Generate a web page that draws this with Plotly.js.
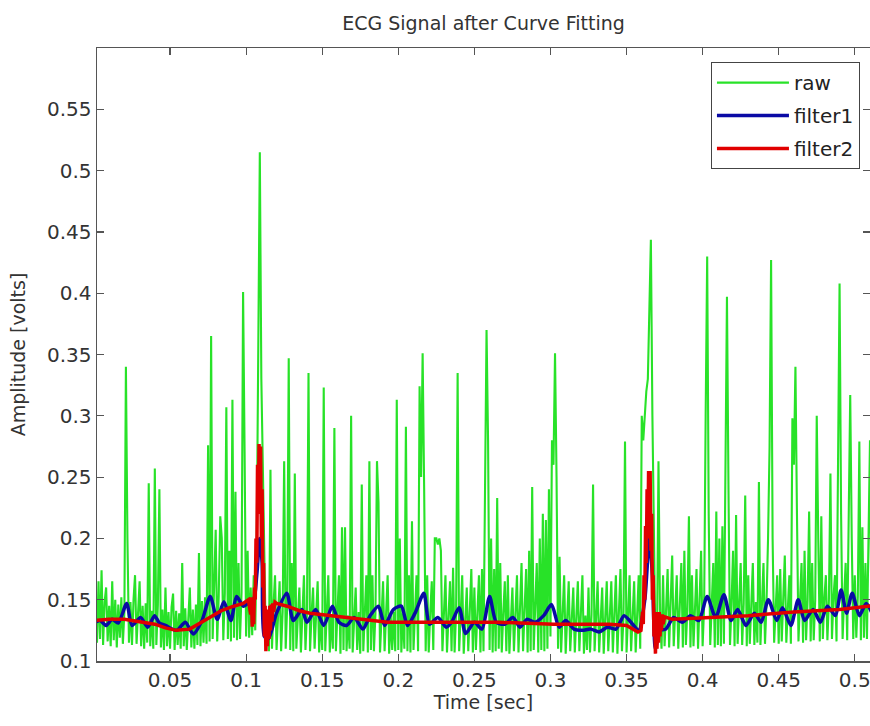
<!DOCTYPE html>
<html><head><meta charset="utf-8">
<script src="https://cdn.plot.ly/plotly-3.0.1.min.js"></script>
<style>html,body{margin:0;padding:0;background:#fff;overflow:hidden}#chart{width:870px;height:726px}</style>
</head><body><div id="chart"></div>
<script>
// raw ECG samples, one every 1 ms starting at t = 0 s
const rawStart = 0;
const rawStep = 0.001;
const rawV = [
.128,.150,.115,.165,.118,.174,.113,.148,.160,.116,
.145,.112,.165,.117,.150,.111,.146,.119,.152,.114,
.140,.340,.200,.115,.148,.113,.150,.170,.114,.143,
.165,.112,.145,.110,.147,.115,.245,.112,.141,.110,
.257,.113,.146,.240,.111,.142,.109,.160,.112,.140,
.110,.144,.155,.109,.141,.113,.139,.110,.180,.112,
.143,.109,.140,.160,.111,.142,.110,.146,.113,.188,
.112,.149,.115,.152,.114,.276,.116,.365,.118,.154,
.207,.116,.153,.218,.200,.117,.155,.307,.118,.190,
.116,.313,.119,.238,.117,.180,.118,.156,.401,.270,
.120,.190,.119,.160,.121,.170,.125,.200,.330,.515,
.330,.250,.200,.112,.140,.108,.256,.110,.145,.170,
.109,.142,.165,.108,.140,.263,.110,.145,.347,.109,
.180,.108,.253,.110,.141,.160,.107,.139,.170,.109,
.140,.335,.108,.138,.160,.110,.142,.165,.107,.137,
.109,.323,.108,.140,.170,.107,.138,.110,.290,.108,
.139,.170,.106,.209,.109,.209,.108,.137,.110,.300,
.107,.138,.160,.109,.140,.106,.244,.108,.137,.170,
.107,.263,.109,.170,.108,.139,.263,.229,.107,.138,
.165,.108,.139,.170,.106,.137,.109,.140,.108,.313,
.109,.200,.107,.139,.110,.291,.108,.170,.107,.214,
.109,.138,.170,.108,.324,.250,.351,.240,.108,.170,
.107,.139,.165,.109,.200,.200,.195,.200,.190,.108,
.139,.170,.107,.137,.165,.108,.176,.107,.140,.335,
.108,.138,.170,.106,.139,.160,.108,.137,.175,.107,
.160,.109,.139,.170,.107,.175,.108,.242,.370,.280,
.109,.200,.107,.175,.108,.233,.110,.180,.107,.139,
.165,.108,.170,.106,.138,.160,.108,.137,.170,.107,
.139,.180,.108,.138,.175,.107,.190,.108,.242,.109,
.139,.180,.107,.200,.109,.220,.108,.215,.110,.240,
.120,.280,.260,.351,.250,.110,.185,.107,.138,.170,
.106,.137,.165,.108,.139,.160,.107,.136,.165,.108,
.138,.170,.106,.137,.109,.160,.107,.138,.244,.108,
.136,.165,.107,.137,.160,.106,.138,.165,.108,.136,
.165,.107,.137,.170,.106,.138,.175,.108,.136,.279,
.107,.137,.170,.108,.135,.165,.107,.136,.170,.110,
.300,.280,.300,.320,.330,.400,.4435,.300,.200,.110,
.112,.263,.140,.110,.170,.112,.142,.175,.111,.143,
.186,.112,.141,.170,.110,.144,.180,.111,.190,.113,
.142,.218,.111,.170,.112,.143,.175,.110,.144,.190,
.112,.145,.300,.430,.220,.113,.146,.180,.111,.222,
.113,.200,.112,.210,.114,.267,.397,.240,.113,.146,
.190,.112,.219,.114,.145,.180,.113,.147,.235,.112,
.170,.114,.146,.180,.113,.148,.115,.246,.113,.147,
.180,.114,.148,.200,.275,.427,.200,.115,.147,.170,
.114,.175,.116,.148,.186,.115,.149,.170,.114,.298,
.260,.340,.220,.116,.149,.180,.115,.190,.117,.150,
.222,.116,.180,.117,.150,.300,.200,.116,.218,.118,
.151,.170,.117,.150,.253,.118,.152,.170,.116,.268,
.408,.220,.118,.152,.180,.117,.232,.317,.200,.118,
.170,.119,.153,.279,.117,.209,.119,.180,.118,.200,
.280,.120
];

// filter1 (blue)
const filter1T = [0,.004,.008,.012,.016,.0215,.025,.0306,.0354,.0398,.043,.047,.0544,.06,.0653,.071,.0764,.081,.0854,.09,.0937,.0982,.102,.105,.107,.109,.1105,.112,.1146,.12,.1267,.131,.1366,.14,.1457,.151,.1567,.161,.166,.171,.1767,.1815,.187,.191,.1968,.202,.206,.211,.2168,.2205,.226,.2315,.235,.24,.2443,.25,.255,.26,.2644,.27,.2753,.28,.2845,.29,.2955,.3007,.3057,.31,.3155,.321,.3265,.332,.3375,.343,.3484,.354,.358,.362,.365,.367,.369,.372,.3758,.381,.3866,.392,.3975,.403,.4085,.414,.4187,.423,.4285,.434,.4385,.4432,.4487,.4525,.458,.4628,.467,.4726,.4774,.482,.4873,.491,.4946,.4983,.503,.5075,.511];
const filter1V = [.131,.133,.129,.134,.131,.147,.129,.1355,.1276,.137,.131,.129,.125,.1316,.122,.133,.1526,.134,.1484,.133,.1526,.1447,.148,.15,.17,.2,.18,.12,.118,.139,.1553,.133,.142,.1316,.142,.129,.1447,.1316,.129,.1355,.126,.137,.1447,.129,.142,.1447,.129,.139,.1553,.130,.1355,.1276,.1316,.1434,.1224,.1316,.126,.1526,.1316,.130,.1355,.1276,.134,.1316,.137,.146,.1276,.133,.126,.125,.126,.1237,.1276,.126,.137,.130,.125,.15,.2,.17,.11,.125,.126,.1355,.1316,.137,.133,.1526,.1355,.154,.133,.142,.129,.139,.1316,.15,.133,.1434,.129,.15,.133,.142,.1316,.1447,.137,.158,.139,.1553,.137,.147,.14];

// filter2 (red)
const filter2T = [0,.01,.02,.03,.04,.047,.054,.063,.073,.0836,.09,.098,.1015,.103,.1035,.104,.1045,.105,.1055,.106,.1065,.107,.1075,.108,.1085,.109,.1095,.110,.1105,.111,.1115,.112,.1125,.113,.1135,.114,.1145,.115,.1155,.116,.1165,.117,.1175,.118,.119,.12,.127,.135,.142,.157,.175,.193,.23,.266,.302,.339,.35,.354,.3575,.3595,.3605,.361,.3615,.362,.3625,.363,.3635,.364,.3645,.365,.3655,.366,.3665,.367,.3675,.368,.3685,.369,.3695,.370,.3705,.371,.3715,.372,.3725,.373,.3735,.374,.375,.38,.4,.43,.46,.49,.511];
const filter2V = [.133,.134,.134,.132,.130,.127,.125,.126,.133,.141,.144,.147,.150,.138,.152,.128,.150,.130,.160,.150,.200,.180,.260,.220,.277,.240,.275,.200,.240,.160,.180,.120,.145,.108,.142,.112,.140,.118,.145,.125,.146,.132,.147,.140,.148,.147,.1447,.141,.139,.137,.134,.1316,.1316,.1316,.130,.130,.129,.126,.1237,.125,.14,.13,.17,.15,.21,.18,.24,.2,.255,.22,.255,.19,.22,.15,.17,.12,.14,.106,.138,.11,.14,.115,.14,.12,.138,.125,.138,.13,.136,.134,.135,.137,.14,.142,.145];

const xTickVals = [0.05,0.1,0.15,0.2,0.25,0.3,0.35,0.4,0.45,0.5];
const xTickText = ['0.05','0.1','0.15','0.2','0.25','0.3','0.35','0.4','0.45','0.5'];
const yTickVals = [0.1,0.15,0.2,0.25,0.3,0.35,0.4,0.45,0.5,0.55];
const yTickText = ['0.1','0.15','0.2','0.25','0.3','0.35','0.4','0.45','0.5','0.55'];
const seriesNames = ['raw','filter1','filter2'];

const FONT = 'DejaVu Sans, Liberation Sans, Arial, sans-serif';
const traces = [
  {type:'scatter', mode:'lines', name:seriesNames[0], legendgroup:'g1', x0:rawStart, dx:rawStep, y:rawV,
   line:{color:'rgb(40,226,40)', width:2.1}},
  {type:'scatter', mode:'lines', name:seriesNames[1], legendgroup:'g2', x:filter1T, y:filter1V,
   line:{color:'rgb(10,10,165)', width:3.5, shape:'spline', smoothing:0.7}},
  {type:'scatter', mode:'lines', name:seriesNames[2], legendgroup:'g3', x:filter2T, y:filter2V,
   line:{color:'rgb(225,0,0)', width:3.5}}
];
const axisCommon = {showline:true, linecolor:'#555', linewidth:1.5, mirror:'ticks', ticks:'inside', ticklen:7, tickcolor:'#555', tickwidth:1.2, showgrid:false, zeroline:false, tickfont:{family:FONT, size:20, color:'#333'}, tickmode:'array', ticklabeloverflow:'allow'};
const layout = {
  width:870, height:726, paper_bgcolor:'#fff', plot_bgcolor:'#fff',
  margin:{l:97, r:0, t:48, b:65},
  title:{text:'ECG Signal after Curve Fitting', font:{family:FONT, size:19, color:'#333'}, x:0.5, xref:'paper', xanchor:'center', y:1-23/726, yref:'container', yanchor:'middle'},
  xaxis:Object.assign({}, axisCommon, {range:[0.002,0.51], tickvals:xTickVals, ticktext:xTickText,
    title:{text:'Time [sec]', font:{family:FONT, size:19, color:'#333'}, standoff:2}}),
  yaxis:Object.assign({}, axisCommon, {range:[0.1,0.6], tickvals:yTickVals, ticktext:yTickText,
    title:{text:'Amplitude [volts]', font:{family:FONT, size:19, color:'#333'}, standoff:16}}),
  showlegend:true,
  legend:{x:0.987, xanchor:'right', y:0.977, yanchor:'top', bgcolor:'#fff', bordercolor:'#444', borderwidth:1,
    font:{family:FONT, size:20, color:'#222'}, itemwidth:72, traceorder:'grouped', tracegroupgap:4}
};
Plotly.newPlot('chart', traces, layout, {staticPlot:true, displayModeBar:false});
</script></body></html>
